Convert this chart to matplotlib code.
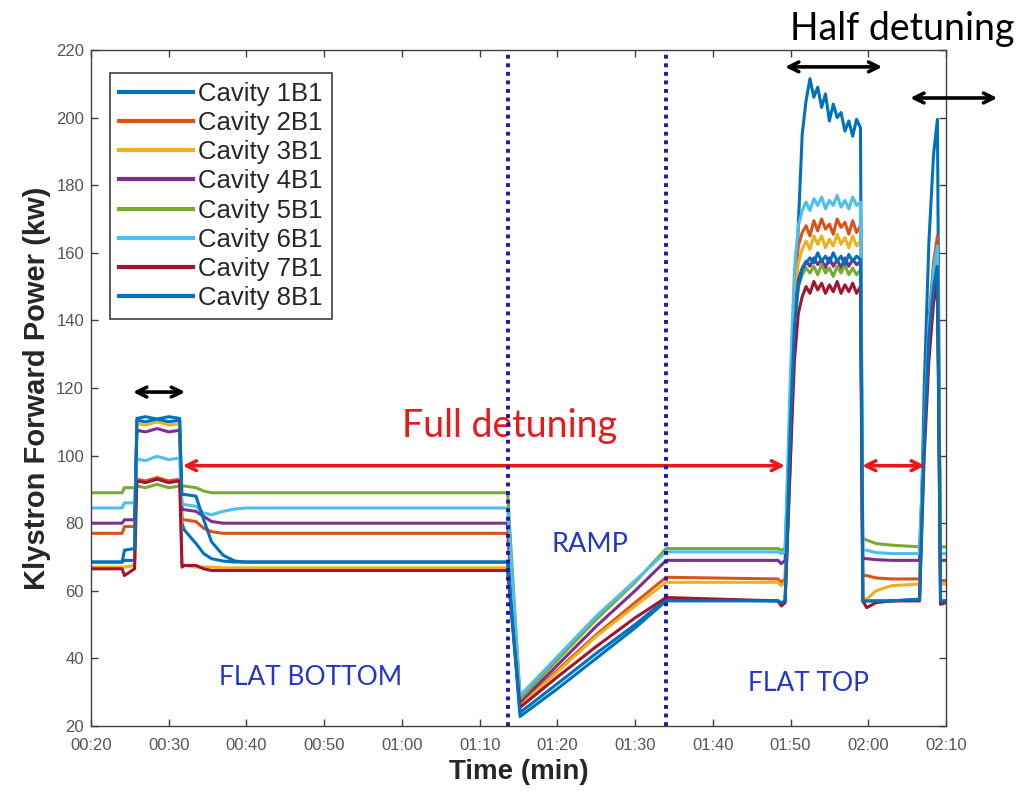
import matplotlib
matplotlib.use("Agg")
import matplotlib.pyplot as plt

# ---------------- data ----------------
T = [20, 24.0, 24.3, 25.6, 25.9, 27.0, 28.5, 30.0, 31.4, 31.7, 32.0, 33.5, 34.5, 35.5, 37.0, 38.5, 40.0,
     73.6, 75.2, 80.0, 85.0, 90.0, 94.0,
     108.4, 108.8, 109.3, 110.0, 110.5, 111.0, 111.5, 112.0, 112.5, 113.0, 113.5, 114.0, 114.5, 115.0,
     115.5, 116.0, 116.5, 117.0, 117.5, 118.0, 118.5, 119.0,
     119.3, 119.8, 121.0, 123.0, 126.6, 127.2, 127.8, 128.4, 128.9, 129.3, 130.0]

cav1 = [68.5, 68.5, 69, 69, 111, 111.5, 110.8, 111.5, 111, 80, 78, 74, 71, 69.5, 68.8, 68.5, 68.5,
        68.5, 24, 32.5, 41.5, 50, 57.5,
        57, 56, 57, 100, 140, 168, 195, 205, 211.5, 206, 209, 203, 207, 199,
        204, 200, 201.5, 196, 199, 194.5, 199.5, 197,
        57, 57, 57, 57, 57.5, 120, 163, 189, 199.5, 57, 57]
cav2 = [77, 77, 79, 79, 93, 92.5, 93.5, 92.5, 93, 81, 81, 80.5, 78.5, 77.5, 77, 77, 77,
        77, 26.5, 36.5, 47, 56.5, 64,
        63.5, 62.5, 63.5, 120, 150, 162, 166, 168, 165, 169.5, 166.5, 170, 167, 168.5,
        165.5, 170, 167.5, 169, 165.5, 169.5, 166, 168,
        64.5, 64.5, 63.8, 63.5, 63.5, 108, 140, 157, 165, 63, 63]
cav3 = [67, 67, 67, 67.5, 109.5, 109, 110, 109, 109.5, 67.5, 67.5, 67, 67, 67, 66.8, 66.8, 66.8,
        66.8, 26, 36, 46.5, 55.5, 62.5,
        62.5, 61.5, 62.5, 115, 145, 157, 161, 163.5, 161, 165, 162.5, 165, 161.5, 164,
        162, 165.5, 162.5, 164.5, 161.5, 165, 162, 163.5,
        58, 57.5, 60, 61.5, 62, 105, 135, 152, 160, 62, 62]
cav4 = [80, 80, 81, 81, 107.5, 107, 108, 107, 107.5, 84, 84, 83.5, 82, 80.5, 80, 80, 80,
        80, 27, 38, 49.5, 60, 69,
        69, 68, 69, 115, 142, 152, 155.5, 157.5, 156, 158.5, 156.5, 158, 155.5, 158.5,
        156, 158, 155.5, 158.5, 156, 158, 156.5, 157.5,
        69.5, 69.5, 69.2, 69, 69, 105, 133, 150, 157, 69, 69]
cav5 = [89, 89, 90.5, 90.5, 91, 90.5, 91.5, 90.5, 91, 91, 91, 90.5, 89.5, 89, 89, 89, 89,
        89, 28, 39.5, 51.5, 62.5, 72.5,
        72.5, 72, 72.5, 112, 140, 150, 153.5, 155.5, 154, 156, 153.5, 156.5, 154, 155.5,
        153, 156, 154, 156.5, 153.5, 155.5, 153.5, 155,
        75.5, 75, 74, 73.5, 73, 105, 132, 148, 155, 73, 73]
cav6 = [84.5, 84.5, 86, 86, 99, 98.5, 99.8, 98.8, 99.3, 85.5, 85.5, 85, 83, 82.5, 83.5, 84.2, 84.5,
        84.5, 29, 40.5, 52.5, 63, 71.5,
        71.5, 71, 71.5, 125, 155, 168, 172.5, 175, 172.5, 176, 174, 176.5, 173, 175.5,
        174, 177, 173.5, 175.5, 173, 176.5, 174, 175,
        72, 72, 71.3, 71, 71, 108, 138, 155, 162, 71, 71]
cav7 = [66.5, 66.5, 64.5, 66.5, 92.5, 92, 93, 92, 92.5, 67, 67.5, 67.5, 66.5, 66, 66, 66, 66,
        66, 25.5, 34.5, 43.5, 52, 58,
        57, 55.5, 56.5, 100, 128, 142, 147, 150, 148, 151.5, 149, 151, 148, 150.5,
        148.5, 151.5, 148, 150.5, 148.5, 151, 148, 150,
        57, 55, 56.5, 57, 57, 100, 128, 145, 152, 56, 56.5]
cav8 = [68.5, 68.5, 72, 72.5, 110.5, 110, 110.8, 110, 110.5, 88.5, 88.5, 88, 81, 74.5, 70.5, 68.8, 68.5,
        68.5, 22.8, 31, 40, 49, 57,
        57, 56.5, 57, 110, 138, 150, 155, 157, 158.5, 157, 160, 157.5, 159, 157,
        160, 157.5, 159, 156.5, 159.5, 157.5, 159, 158,
        57, 57, 57, 57, 57.5, 105, 135, 150, 156, 57, 57]

labels = ["Cavity 1B1", "Cavity 2B1", "Cavity 3B1", "Cavity 4B1",
          "Cavity 5B1", "Cavity 6B1", "Cavity 7B1", "Cavity 8B1"]
series = [cav1, cav2, cav3, cav4, cav5, cav6, cav7, cav8]
colors = ["#0072BD", "#D95319", "#EDB120", "#7E2F8E",
          "#77AC30", "#4DBEEE", "#A2142F", "#0072BD"]

xticks = [20, 30, 40, 50, 60, 70, 80, 90, 100, 110, 120, 130]
xticklabels = ["%02d:%02d" % (t // 60, t % 60) for t in xticks]
yticks = [20, 40, 60, 80, 100, 120, 140, 160, 180, 200, 220]
phase_bounds = [73.7, 94.0]

# ---------------- figure ----------------
plt.rcParams['font.family'] = ['Liberation Sans', 'DejaVu Sans']
fig = plt.figure(figsize=(10.24, 7.91), dpi=100)
ax = fig.add_axes([0.0889, 0.0822, 0.8349, 0.8546])

for y, lab, c in zip(series, labels, colors):
    ax.plot(T, y, color=c, lw=2.2, label=lab, solid_joinstyle='round')

for xb in phase_bounds:
    ax.axvline(xb, color="#1a1aa8", ls=(0, (1, 1.2)), lw=2.8, zorder=5)

ax.set_xlim(20, 130)
ax.set_ylim(20, 220)
ax.set_xticks(xticks)
ax.set_xticklabels(xticklabels)
ax.set_yticks(yticks)
ax.tick_params(direction='in', length=5, width=1, colors='#404040',
               labelcolor='#555555', labelsize=12, top=True, right=True)
ax.tick_params(axis='x', pad=9)
ax.tick_params(axis='y', pad=5)
for s in ax.spines.values():
    s.set_color('#404040')
    s.set_linewidth(1.0)

ax.set_xlabel("Time (min)", fontsize=20, fontweight='bold', color='#262626', labelpad=4)
ax.set_ylabel("Klystron Forward Power (kw)", fontsize=21, fontweight='bold', color='#262626', labelpad=4)

leg = ax.legend(loc='upper left', bbox_to_anchor=(0.022, 0.966), borderaxespad=0,
                fontsize=18.5, handlelength=2.9, handletextpad=0.2, labelspacing=0.2,
                borderpad=0.35, fancybox=False, framealpha=1, edgecolor='#404040')
leg.get_frame().set_linewidth(1.2)
for l in leg.get_lines():
    l.set_linewidth(3)
for t in leg.get_texts():
    t.set_color('#262626')

# arrows
def darrow(x1, x2, y, color):
    ax.annotate('', xy=(x2, y), xytext=(x1, y), annotation_clip=False,
                arrowprops=dict(arrowstyle='<->,head_length=0.7,head_width=0.35',
                                color=color, lw=2.6, shrinkA=0, shrinkB=0))

darrow(25.4, 32.1, 118.8, 'black')
darrow(31.8, 109.3, 97, '#e8191b')
darrow(119.2, 127.3, 97, '#e8191b')
darrow(109.3, 121.8, 215, 'black')
darrow(125.4, 136.6, 205.8, 'black')

ann_font = ['Lato', 'DejaVu Sans']
ax.text(73.9, 108.7, "Full detuning", color='#e8191b', fontsize=27, ha='center', va='center',
        family=ann_font)
fig.text(0.881, 0.963, "Half detuning", color='black', fontsize=27, ha='center', va='center',
         family=ann_font)
blue = '#2436c8'
ax.text(84.2, 73.6, "RAMP", color=blue, fontsize=19.5, ha='center', va='center', family=ann_font)
ax.text(48.2, 34.2, "FLAT BOTTOM", color=blue, fontsize=19, ha='center', va='center', family=ann_font)
ax.text(112.3, 32.7, "FLAT TOP", color=blue, fontsize=19, ha='center', va='center', family=ann_font)

fig.savefig("out.png", dpi=100)
